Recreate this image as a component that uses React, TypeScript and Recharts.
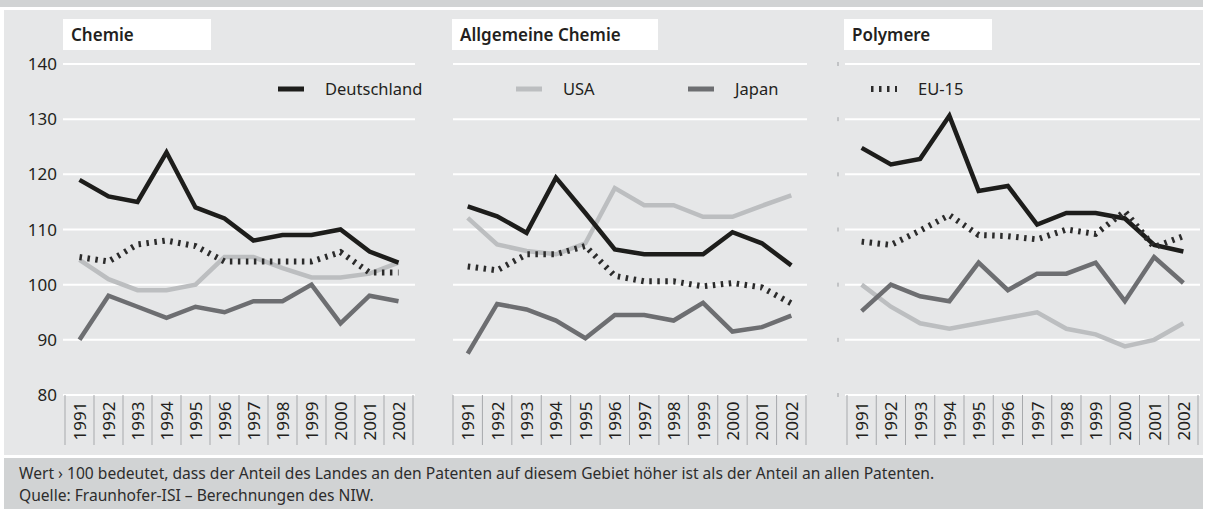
import { CartesianGrid, Legend, Line, LineChart, XAxis, YAxis } from "recharts";

const years = ["1991", "1992", "1993", "1994", "1995", "1996", "1997", "1998", "1999", "2000", "2001", "2002"];
const yTicks = [80, 90, 100, 110, 120, 130, 140];

// Chemie
const chemieDeutschland = [119, 116, 115, 124, 114, 112, 108, 109, 109, 110, 106, 104];
const chemieUSA = [104.5, 101, 99, 99, 100, 105, 105, 103, 101.3, 101.3, 102, 104];
const chemieJapan = [90, 98, 96, 94, 96, 95, 97, 97, 100, 93, 98, 97];
const chemieEU15 = [105, 104.2, 107.3, 108, 107, 104.2, 104.2, 104.2, 104.2, 105.9, 102.2, 102.2];

// Allgemeine Chemie
const allgDeutschland = [114.2, 112.4, 109.4, 119.4, 113, 106.4, 105.5, 105.5, 105.5, 109.5, 107.5, 103.5];
const allgUSA = [112.1, 107.3, 106.1, 105.5, 107.5, 117.5, 114.4, 114.4, 112.3, 112.3, 114.3, 116.2];
const allgJapan = [87.5, 96.5, 95.5, 93.5, 90.3, 94.5, 94.5, 93.5, 96.7, 91.5, 92.3, 94.4];
const allgEU15 = [103.3, 102.6, 105.5, 105.5, 107, 101.6, 100.6, 100.6, 99.7, 100.3, 99.5, 96.6];

// Polymere
const polyDeutschland = [124.8, 121.8, 122.8, 130.6, 117, 117.9, 110.9, 113, 113, 112, 107.2, 106];
const polyUSA = [100, 96, 93, 92, 93, 94, 95, 92, 91, 88.8, 90, 93];
const polyJapan = [95.2, 100, 97.9, 97, 104, 99, 102, 102, 104, 97, 105, 100.3];
const polyEU15 = [107.8, 107.2, 109.8, 112.6, 109, 108.8, 108.2, 110, 109.2, 113.3, 106.8, 108.8];

const FONT = '"Noto Sans", sans-serif';
const TEXT = "#231f20";
const PANEL_BG = "#e6e7e8";
const BAND_BG = "#d1d3d4";

const SERIES = [
  { key: "USA", color: "#bcbec0", width: 4.5, dash: undefined },
  { key: "Japan", color: "#6d6e71", width: 4.5, dash: undefined },
  { key: "Deutschland", color: "#1d1d1b", width: 4.5, dash: undefined },
  { key: "EU-15", color: "#2b2b2b", width: 6, dash: "2.5 5.5" },
];

function buildRows(d: number[], u: number[], j: number[], e: number[]) {
  return years.map((year, i) => ({ year, Deutschland: d[i], USA: u[i], Japan: j[i], "EU-15": e[i] }));
}

const CHART_H = 455;
const PLOT_TOP = 64;
const AXIS_H = 50;

const panels = [
  {
    title: "Chemie",
    rows: buildRows(chemieDeutschland, chemieUSA, chemieJapan, chemieEU15),
    left: 0, width: 430, gridLeft: 63, gridRight: 415, bandLeft: 65, bandRight: 413,
    yMode: "labels", titleBox: { left: 63, width: 148 },
    legend: [{ name: "Deutschland", left: 278 }],
  },
  {
    title: "Allgemeine Chemie",
    rows: buildRows(allgDeutschland, allgUSA, allgJapan, allgEU15),
    left: 430, width: 400, gridLeft: 453, gridRight: 807, bandLeft: 453, bandRight: 806,
    yMode: "none", titleBox: { left: 452, width: 206 },
    legend: [{ name: "USA", left: 516 }, { name: "Japan", left: 688 }],
  },
  {
    title: "Polymere",
    rows: buildRows(polyDeutschland, polyUSA, polyJapan, polyEU15),
    left: 820, width: 385, gridLeft: 845, gridRight: 1200, bandLeft: 847, bandRight: 1198,
    yMode: "marks", titleBox: { left: 844, width: 148 },
    legend: [{ name: "EU-15", left: 871 }],
  },
];

function YearTick(props: any) {
  const { x, y, payload, index, bw } = props;
  const last = index === years.length - 1;
  return (
    <g>
      <line x1={x - bw / 2} x2={x - bw / 2} y1={y} y2={y + AXIS_H} stroke="#a7a9ac" strokeWidth={1} />
      {last && <line x1={x + bw / 2} x2={x + bw / 2} y1={y} y2={y + AXIS_H} stroke="#a7a9ac" strokeWidth={1} />}
      <text
        transform={`translate(${x},${y + 26}) rotate(-90)`}
        textAnchor="middle"
        dominantBaseline="central"
        fontSize={17}
        fontFamily={FONT}
        fill={TEXT}
      >
        {payload.value}
      </text>
    </g>
  );
}

function MarkTick(props: any) {
  const { x, y } = props;
  return <line x1={x} x2={x} y1={y - 2} y2={y + 2} stroke="#9d9fa2" strokeWidth={1} />;
}

function legendContent(items: { name: string; left: number }[], chartLeft: number) {
  return (props: any) => (
    <div style={{ position: "relative", height: 0, width: 0 }}>
      {(props.payload ?? [])
        .filter((p: any) => items.some((i) => i.name === p.value))
        .map((p: any) => {
          const item = items.find((i) => i.name === p.value)!;
          const s = SERIES.find((v) => v.key === p.value)!;
          return (
            <div
              key={p.value}
              style={{
                position: "absolute",
                left: item.left - chartLeft,
                top: 77,
                height: 24,
                display: "flex",
                alignItems: "center",
                whiteSpace: "nowrap",
              }}
            >
              <svg width={26} height={24} style={{ display: "block" }}>
                <line x1={0} x2={26} y1={12} y2={12} stroke={p.color} strokeWidth={s.dash ? 6 : 5} strokeDasharray={s.dash} />
              </svg>
              <span style={{ marginLeft: 21, fontSize: 16.5, color: TEXT, fontFamily: FONT, lineHeight: "24px" }}>{p.value}</span>
            </div>
          );
        })}
    </div>
  );
}

function Panel({ panel }: { panel: (typeof panels)[number] }) {
  const bw = (panel.bandRight - panel.bandLeft) / years.length;
  const padL = panel.bandLeft - panel.gridLeft + bw / 2;
  const padR = panel.gridRight - panel.bandRight + bw / 2;
  const plotLeft = panel.gridLeft - panel.left;
  const marginRight = panel.left + panel.width - panel.gridRight;
  const yWidth = panel.yMode === "none" ? 0 : plotLeft;
  return (
    <div style={{ position: "absolute", left: panel.left, top: 0 }}>
      <LineChart
        width={panel.width}
        height={CHART_H}
        data={panel.rows}
        margin={{ top: PLOT_TOP, right: marginRight, bottom: CHART_H - PLOT_TOP - (395 - PLOT_TOP) - AXIS_H, left: panel.yMode === "none" ? plotLeft : 0 }}
      >
        <CartesianGrid vertical={false} stroke="#ffffff" strokeWidth={2} />
        <XAxis
          dataKey="year"
          interval={0}
          height={AXIS_H}
          padding={{ left: padL, right: padR }}
          axisLine={false}
          tickLine={false}
          tickSize={0}
          tickMargin={0}
          tick={(p: any) => <YearTick {...p} bw={bw} />}
        />
        <YAxis
          domain={[80, 140]}
          ticks={yTicks}
          interval={0}
          width={yWidth}
          hide={panel.yMode === "none"}
          axisLine={false}
          tickLine={false}
          tickSize={panel.yMode === "marks" ? 7 : 4}
          tickMargin={panel.yMode === "marks" ? 0 : 2}
          tick={panel.yMode === "marks" ? (p: any) => <MarkTick {...p} /> : { fontSize: 17, fill: TEXT, fontFamily: FONT }}
        />
        <Legend
          content={legendContent(panel.legend, panel.left)}
          wrapperStyle={{ left: 0, top: 0, bottom: "auto", width: 0, height: 0 }}
        />
        {SERIES.map((s) => (
          <Line
            key={s.key}
            dataKey={s.key}
            name={s.key}
            type="linear"
            stroke={s.color}
            strokeWidth={s.width}
            strokeDasharray={s.dash}
            dot={false}
            activeDot={false}
            isAnimationActive={false}
          />
        ))}
      </LineChart>
    </div>
  );
}

export default function App() {
  return (
    <div style={{ position: "relative", width: 1205, height: 509, background: "#ffffff", overflow: "hidden", fontFamily: FONT }}>
      <style>{"body{margin:0}"}</style>
      <div style={{ position: "absolute", left: 0, top: 0, width: 1203, height: 7, background: BAND_BG }} />
      <div style={{ position: "absolute", left: 4, top: 10, width: 1199, height: 445, background: PANEL_BG }} />
      <div style={{ position: "absolute", left: 4, top: 458, width: 1199, height: 51, background: BAND_BG }} />
      {panels.map((p) => (
        <div
          key={p.title}
          style={{
            position: "absolute",
            left: p.titleBox.left,
            top: 19,
            width: p.titleBox.width,
            height: 31,
            background: "#ffffff",
            boxSizing: "border-box",
            paddingLeft: 8,
            fontSize: 17,
            fontWeight: 600,
            lineHeight: "31px",
            color: TEXT,
          }}
        >
          {p.title}
        </div>
      ))}
      {panels.map((p) => (
        <Panel key={p.title} panel={p} />
      ))}
      <div style={{ position: "absolute", left: 19, top: 462, fontSize: 15.6, lineHeight: "22px", color: "#2d2d2d", whiteSpace: "nowrap" }}>
        <div>Wert › 100 bedeutet, dass der Anteil des Landes an den Patenten auf diesem Gebiet höher ist als der Anteil an allen Patenten.</div>
        <div>Quelle: Fraunhofer-ISI – Berechnungen des NIW.</div>
      </div>
    </div>
  );
}
